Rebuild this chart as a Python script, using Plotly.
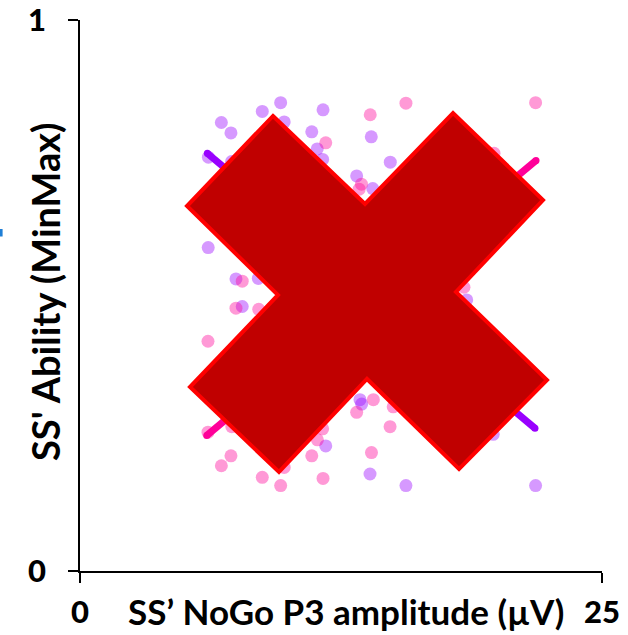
import plotly.graph_objects as go

# --- data -------------------------------------------------------------
# purple group: NoGo P3 amplitude (µV) and ability score
purple_x = [9.61, 8.73, 11.64, 6.77, 7.23, 9.78, 11.10, 13.95, 11.36, 11.62,
            6.15, 13.25, 14.02, 14.86, 6.14, 7.47, 8.54, 7.77, 18.52, 19.79,
            13.41, 13.49, 11.77, 13.89, 15.61, 21.82, 7.26, 15.00]
purple_y = [0.850, 0.834, 0.837, 0.814, 0.795, 0.815, 0.797, 0.788, 0.766, 0.747,
            0.751, 0.717, 0.694, 0.742, 0.587, 0.530, 0.531, 0.480, 0.492, 0.248,
            0.311, 0.303, 0.227, 0.176, 0.155, 0.155, 0.743, 0.706]

# pink group
pink_x = [13.90, 11.77, 13.48, 13.37, 15.61, 21.82, 19.83, 7.77, 7.47, 8.56,
          6.13, 6.13, 7.27, 13.25, 14.05, 14.85, 15.00, 11.62, 11.37, 7.23,
          6.77, 11.10, 9.78, 8.73, 9.61, 11.64, 13.96, 18.39]
pink_y = [0.828, 0.777, 0.702, 0.693, 0.849, 0.850, 0.758, 0.526, 0.477, 0.475,
          0.417, 0.252, 0.262, 0.288, 0.311, 0.262, 0.298, 0.258, 0.238, 0.209,
          0.191, 0.209, 0.188, 0.170, 0.155, 0.168, 0.215, 0.515]

# fitted trend lines (end points)
purple_fit_x = [6.10, 21.79]
purple_fit_y = [0.758, 0.259]
pink_fit_x = [6.07, 21.84]
pink_fit_y = [0.246, 0.745]

x_ticks = [0, 25]
x_ticklabels = ["0", "25"]
y_ticks = [0, 1]
y_ticklabels = ["0", "1"]

x_title = "SS\u2019 NoGo P3 amplitude (\u00b5V)"
y_title = "SS' Ability (MinMax)"

# --- styling ----------------------------------------------------------
W, H = 628, 635
M_L, M_R, M_T, M_B = 80, 26, 20, 64
PURPLE = "rgb(153,0,255)"
PINK = "rgb(255,0,153)"
FONT = "Lato"

# big cross overlay, outline in pixel coordinates of the page
cross_px = [(273, 116), (365, 204), (453, 113), (543, 200), (456, 292),
            (547, 380), (459, 469), (367, 379), (279, 472), (190, 387),
            (278, 295), (187, 206)]

pw, ph = W - M_L - M_R, H - M_T - M_B


def to_paper(px, py):
    return (px - M_L) / pw, (H - M_B - py) / ph


cross_path = "M " + " L ".join(
    "{:.4f},{:.4f}".format(*to_paper(px, py)) for px, py in cross_px) + " Z"

fig = go.Figure()

fig.add_trace(go.Scatter(
    x=purple_x, y=purple_y, mode="markers",
    marker=dict(size=13, color=PURPLE, opacity=0.4, line=dict(width=0)),
    hoverinfo="skip", showlegend=False))
fig.add_trace(go.Scatter(
    x=pink_x, y=pink_y, mode="markers",
    marker=dict(size=13, color=PINK, opacity=0.4, line=dict(width=0)),
    hoverinfo="skip", showlegend=False))

for fx, fy, col in [(purple_fit_x, purple_fit_y, PURPLE),
                    (pink_fit_x, pink_fit_y, PINK)]:
    fig.add_trace(go.Scatter(
        x=fx, y=fy, mode="lines+markers",
        line=dict(color=col, width=7),
        marker=dict(size=7, color=col, line=dict(width=0)),
        hoverinfo="skip", showlegend=False))

bx0, by0 = to_paper(0, 229)
bx1, by1 = to_paper(2.6, 236.5)

tick_font = dict(family=FONT, size=31, color="black", weight=900)

fig.update_layout(
    width=W, height=H,
    margin=dict(l=M_L, r=M_R, t=M_T, b=M_B, autoexpand=False),
    paper_bgcolor="white", plot_bgcolor="white",
    showlegend=False,
    xaxis=dict(range=[0, 25], tickvals=x_ticks, ticktext=x_ticklabels,
               showgrid=False, zeroline=False, showline=True,
               linecolor="black", linewidth=1.5, automargin=False,
               ticks="outside", ticklen=10, tickwidth=1.5, tickcolor="black",
               tickfont=tick_font, ticklabelstandoff=3,
               ticklabeloverflow="allow"),
    yaxis=dict(range=[0, 1], tickvals=y_ticks, ticktext=y_ticklabels,
               showgrid=False, zeroline=False, showline=True,
               linecolor="black", linewidth=1.5, automargin=False,
               ticks="outside", ticklen=10, tickwidth=1.5, tickcolor="black",
               tickfont=tick_font, ticklabelstandoff=16,
               ticklabeloverflow="allow"),
    shapes=[
        dict(type="path", xref="paper", yref="paper", path=cross_path,
             fillcolor="#C00000", line=dict(color="#FF0000", width=4),
             layer="above"),
        dict(type="rect", xref="paper", yref="paper",
             x0=bx0, x1=bx1, y0=by0, y1=by1,
             fillcolor="#1F7FD6", line=dict(width=0), layer="above"),
    ],
    annotations=[
        dict(text=x_title, xref="paper", yref="paper",
             x=to_paper(346, 0)[0], y=to_paper(0, 611)[1],
             showarrow=False, xanchor="center", yanchor="middle",
             font=dict(family=FONT, size=35, color="black", weight="bold")),
        dict(text=y_title, xref="paper", yref="paper",
             x=to_paper(45, 0)[0], y=to_paper(0, 292)[1],
             showarrow=False, xanchor="center", yanchor="middle", textangle=-90,
             font=dict(family=FONT, size=38, color="black", weight="bold")),
    ],
)

fig.write_html("out.html")
